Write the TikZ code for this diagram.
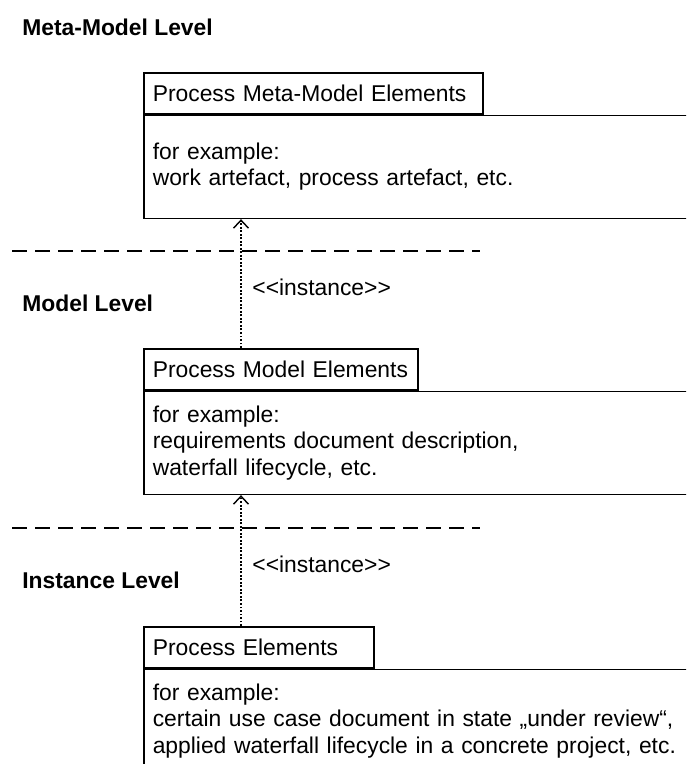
\documentclass[tikz,border=0pt]{standalone}
\usepackage{fontspec}
\setmainfont{Liberation Sans}
\usepackage{tikz}
\usetikzlibrary{arrows.meta, positioning}
\tikzset{>=latex}
\tikzset{
tab/.style={draw, line width=0.9pt, anchor=north west, minimum height=0.82cm, inner xsep=0.18cm, inner ysep=0.1cm, align=left, font=\fontsize{13}{15}\selectfont},
body/.style={draw, line width=0.9pt, anchor=north west, minimum height=2.06cm, text width=14cm, inner xsep=0.18cm, align=left, font=\fontsize{13}{15}\selectfont},
level/.style={anchor=west, inner sep=0, font=\fontsize{13}{15}\selectfont\bfseries},
inst/.style={dash pattern=on 1.1pt off 0.9pt, line width=1.6pt, -{Straight Barb[length=0.16cm, width=0.3cm, line width=0.8pt]}},
lbl/.style={right=0.2cm, inner sep=0, font=\fontsize{13}{15}\selectfont},
sep/.style={line width=1pt, dash pattern=on 0.3cm off 0.16cm}
}

\begin{document}
\begin{tikzpicture}
\useasboundingbox (0,0) rectangle (13.72,-15.28);
\clip (0,0) rectangle (13.72,-15.28);

\node[level] (lvlA) at (0.44,-0.54) {Meta-Model Level};
\node[level] (lvlB) at (0.44,-6.06) {Model Level};
\node[level] (lvlC) at (0.44,-11.6) {Instance Level};

\draw[sep] (0.24,-5.02) -- (9.6,-5.02);
\draw[sep] (0.24,-10.56) -- (9.6,-10.56);

\node[tab, text width=6.42cm] (tabA) at (2.86,-1.44) {Process Meta-Model Elements};
\node[body] (bodyA) at (tabA.south west) {for example:\\work artefact, process artefact, etc.};

\node[tab, text width=5.12cm] (tabB) at (2.86,-6.96) {Process Model Elements};
\node[body] (bodyB) at (tabB.south west) {for example:\\requirements document description,\\waterfall lifecycle, etc.};

\node[tab, text width=4.24cm] (tabC) at (2.86,-12.52) {Process Elements};
\node[body] (bodyC) at (tabC.south west) {for example:\\certain use case document in state „under review“,\\applied waterfall lifecycle in a concrete project, etc.};

\draw[inst] ([xshift=1.96cm]tabB.north west) -- node[lbl, pos=0.47] {<{}<instance>{}>} ([xshift=1.96cm]bodyA.south west);
\draw[inst] ([xshift=1.96cm]tabC.north west) -- node[lbl, pos=0.47] {<{}<instance>{}>} ([xshift=1.96cm]bodyB.south west);
\end{tikzpicture}
\end{document}
